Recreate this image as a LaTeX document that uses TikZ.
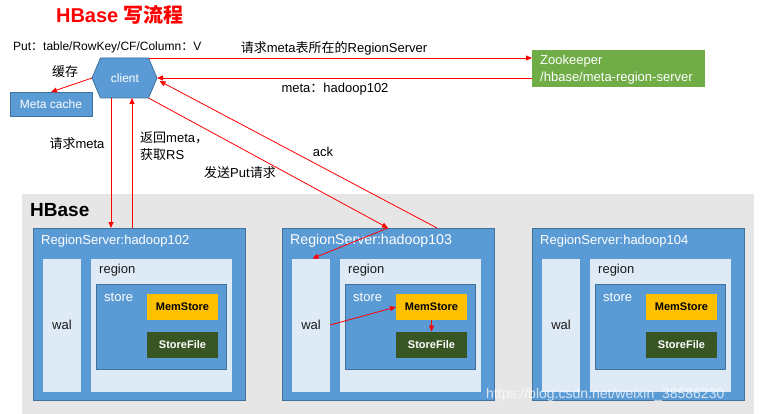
\documentclass[tikz,border=0pt]{standalone}
\usepackage{fontspec}
\setmainfont{Liberation Sans}
\newfontfamily\cjk{Noto Sans CJK SC}
\usetikzlibrary{arrows.meta}
\definecolor{bl}{HTML}{5B9BD5}
\definecolor{bd}{HTML}{41719C}
\definecolor{lt}{HTML}{DEEBF7}
\definecolor{gbg}{HTML}{E6E6E6}
\definecolor{zk}{HTML}{70AD47}
\definecolor{gold}{HTML}{FFC000}
\definecolor{dg}{HTML}{375623}
\definecolor{txt}{HTML}{1A1A1A}
\newcommand\fs[1]{\fontsize{#1}{#1}\selectfont}
\tikzset{
  blk/.style={anchor=north west, inner sep=0pt, outer sep=0pt},
  rsb/.style={blk, fill=bl, draw=bd, line width=0.8pt},
  walb/.style={blk, fill=lt},
  storeb/.style={blk, fill=bl, draw=bd, line width=0.8pt},
  memb/.style={blk, fill=gold, font=\fs{11}\bfseries, text=black},
  sfb/.style={blk, fill=dg, font=\fs{11}\bfseries, text=white},
  lbl/.style={inner sep=0pt, font=\fs{13}, text=black},
  wlbl/.style={inner sep=0pt, font=\fs{13}, text=white, anchor=west},
  dlbl/.style={inner sep=0pt, font=\fs{13}, text=txt},
  arr/.style={draw=red, line width=0.8pt, -{Triangle[length=6pt,width=5pt]}},
}
\newcommand\regionserver[3]{%
  \node[rsb, minimum width=212, minimum height=172] (rs#2) at (#1,228) {};
  \node[wlbl, font=\fs{#3}] (rsl#2) at ({#1+8},241) {RegionServer:hadoop#2};
  \node[walb, minimum width=38, minimum height=133] (wal#2) at ({#1+10},258.5) {};
  \node[dlbl] (wall#2) at (wal#2.center) {wal};
  \node[walb, minimum width=141, minimum height=133] (reg#2) at ({#1+58},258.5) {};
  \node[dlbl, anchor=west] (regl#2) at ({#1+66},270.5) {region};
  \node[storeb, minimum width=130, minimum height=85] (st#2) at ({#1+63},284.5) {};
  \node[wlbl] (stl#2) at ({#1+71},297) {store};
  \node[memb, minimum width=71, minimum height=26] (mem#2) at ({#1+114},294) {MemStore};
  \node[sfb, minimum width=71, minimum height=26] (sf#2) at ({#1+114},331.5) {StoreFile};
}
\begin{document}
\begin{tikzpicture}[x=1pt,y=-1pt]
\useasboundingbox (0,0) rectangle (767,414);
\fill[white] (0,0) rectangle (767,414);

% title
\node[inner sep=0pt, text=red, font=\fs{20}\bfseries] (title) at (120,15) {HBase {\cjk 写流程}};

% HBase background
\fill[gbg] (22,194) rectangle (754,414);
\node[inner sep=0pt, anchor=west, font=\fs{19}\bfseries, text=black] (hb) at (30,210.5) {HBase};

\regionserver{33}{102}{13}
\regionserver{282}{103}{14.2}
\regionserver{532}{104}{13}

% client hexagon
\coordinate (cL) at (92,78);
\coordinate (cTL) at (100.5,58);
\coordinate (cTR) at (148.5,58);
\coordinate (cR) at (157,78);
\coordinate (cBR) at (148.5,98);
\coordinate (cBL) at (100.5,98);
\filldraw[fill=bl, draw=bd, line width=0.8pt] (cL) -- (cTL) -- (cTR) -- (cR) -- (cBR) -- (cBL) -- cycle;
\node[inner sep=0pt, font=\fs{12}, text=white] (client) at (125,78) {client};

% meta cache
\node[blk, fill=bl, draw=bd, line width=0.6pt, minimum width=82, minimum height=24, font=\fs{12}, text=white] (mc) at (10,92) {Meta cache};

% zookeeper
\node[blk, fill=zk, minimum width=173, minimum height=37] (zk) at (532,50) {};
\node[inner sep=0pt, anchor=west, font=\fs{13}, text=white] (zkl1) at (540,61.5) {Zookeeper};
\node[inner sep=0pt, anchor=west, font=\fs{13}, text=white] (zkl2) at (540,78) {/hbase/meta-region-server};

% labels
\node[lbl, anchor=west, font=\fs{12}] (put) at (13,47) {Put{\cjk ：}table/RowKey/CF/Column{\cjk ：}V};
\node[lbl] (l1) at (334,48) {{\cjk 请求}meta{\cjk 表所在的}RegionServer};
\node[lbl] (l2) at (335,89) {meta{\cjk ：}hadoop102};
\node[lbl] (l3) at (65,72) {\cjk 缓存};
\node[lbl] (l4) at (77,144) {{\cjk 请求}meta};
\node[lbl, anchor=west] (l5) at (140,138) {{\cjk 返回}meta{\cjk ，}};
\node[lbl, anchor=west] (l6) at (140,155) {{\cjk 获取}RS};
\node[lbl] (l7) at (240,173) {{\cjk 发送}Put{\cjk 请求}};
\node[lbl] (l8) at (323,152) {ack};

% connectors
\coordinate (cB1) at (111,98);
\coordinate (cB2) at (132,98);
\coordinate (p103) at (388,228);
\coordinate (a103) at (437,228);
\coordinate (cR2) at (159.5,81);
\draw[arr] (cL) -- (mc.north);
\draw[arr] (cTR) -- (cTR -| zk.west);
\draw[arr] (zk.west |- cR) -- (cR);
\draw[arr] (cB1) -- (cB1 |- rs102.north);
\draw[arr] (cB2 |- rs102.north) -- (cB2);
\draw[arr] (cBR) -- (p103);
\draw[arr] (a103) -- (cR2);
\draw[arr] (p103) -- ([xshift=1.5pt]wal103.north);
\draw[arr] (wal103.east) -- (mem103.west);
\draw[arr] (mem103.south) -- (sf103.north);

% watermark
\node[inner sep=0pt, anchor=west, font=\fs{14}, text=white, opacity=0.75] (wm) at (486,395) {https://blog.csdn.net/weixin\_38586230};
\end{tikzpicture}
\end{document}
